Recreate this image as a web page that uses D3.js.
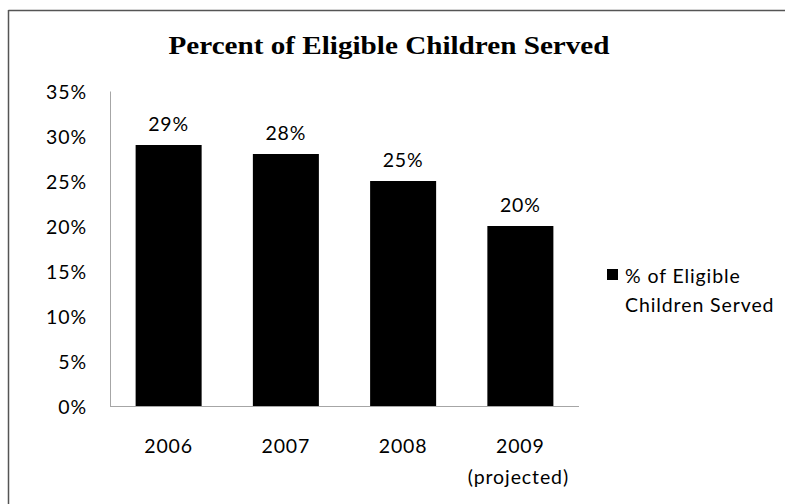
<!DOCTYPE html>
<html><head><meta charset="utf-8">
<script src="https://cdn.jsdelivr.net/npm/d3@7"></script>
<style>html,body{margin:0;padding:0;background:#fff;}svg{display:block;}</style>
</head><body>
<script>
const categories = ["2006", "2007", "2008", "2009"];
const subLabels = ["", "", "", "(projected)"];
const values = [29, 28, 25, 20];
const yTicks = [0, 5, 10, 15, 20, 25, 30, 35];
const seriesName = ["% of Eligible", "Children Served"];
const title = "Percent of Eligible Children Served";

(function () {
const W = 785, H = 504;
const svg = d3.select("body").append("svg").attr("width", W).attr("height", H);

// frame
svg.append("line").attr("x1", 8.5).attr("x2", W).attr("y1", 10.5).attr("y2", 10.5).attr("stroke", "#555").attr("stroke-width", 1.5);
svg.append("line").attr("x1", 8.5).attr("x2", 8.5).attr("y1", 10).attr("y2", H).attr("stroke", "#555").attr("stroke-width", 1.5);

svg.append("text").attr("x", 389).attr("y", 54).attr("text-anchor", "middle")
  .attr("font-family", "Liberation Serif, Times New Roman, serif").attr("font-weight", "bold")
  .attr("font-size", 26).attr("textLength", 441).attr("lengthAdjust", "spacingAndGlyphs").text(title);

const mLeft = 110, mRight = 579, mTop = 91, mBottom = 406;
const x = d3.scaleBand().domain(categories).range([mLeft, mRight]).paddingInner(0.437).paddingOuter(0.2185);
const y = d3.scaleLinear().domain([0, 35]).range([mBottom, mTop]);

const font = "Lato, Open Sans, sans-serif";
const fs = 19.5, ls = 0.9;

// y axis
const yAxis = d3.axisLeft(y).tickValues(yTicks).tickFormat(d => d + "%").tickSize(0).tickPadding(23);
const gy = svg.append("g").attr("transform", `translate(${mLeft},0)`).call(yAxis);
gy.select(".domain").attr("stroke", "#a6a6a6");
gy.selectAll("text").attr("font-family", font).attr("font-size", fs).attr("letter-spacing", ls).attr("fill", "#000").attr("dy", "0.4em");

// x axis
const xAxis = d3.axisBottom(x).tickSize(0).tickPadding(0).tickFormat(() => "");
const gx = svg.append("g").attr("transform", `translate(0,${mBottom})`).call(xAxis);
gx.select(".domain").attr("stroke", "#a6a6a6").attr("d", `M${mLeft},0.5H${mRight}`);

svg.append("g").selectAll("text").data(categories).join("text")
  .attr("x", d => x(d) + x.bandwidth() / 2).attr("y", 453)
  .attr("text-anchor", "middle").attr("font-family", font).attr("font-size", fs).attr("letter-spacing", ls).text(d => d);
svg.append("g").selectAll("text").data(categories).join("text")
  .attr("x", d => x(d) + x.bandwidth() / 2 - 2).attr("y", 484)
  .attr("text-anchor", "middle").attr("font-family", font).attr("font-size", fs).attr("letter-spacing", ls).text((d, i) => subLabels[i]);

// bars
svg.append("g").selectAll("rect").data(values).join("rect")
  .attr("x", (d, i) => x(categories[i])).attr("width", x.bandwidth())
  .attr("y", d => y(d)).attr("height", d => mBottom - y(d)).attr("fill", "#000");

svg.append("g").selectAll("text").data(values).join("text")
  .attr("x", (d, i) => x(categories[i]) + x.bandwidth() / 2).attr("y", d => y(d) - 14)
  .attr("text-anchor", "middle").attr("font-family", font).attr("font-size", fs).attr("letter-spacing", ls).text(d => d + "%");

// legend
svg.append("rect").attr("x", 607).attr("y", 269).attr("width", 11).attr("height", 11).attr("fill", "#000");
svg.append("g").selectAll("text").data(seriesName).join("text")
  .attr("x", 625).attr("y", (d, i) => 283 + i * 29)
  .attr("font-family", font).attr("font-size", fs).attr("letter-spacing", ls).text(d => d);
})();
</script>
</body></html>
